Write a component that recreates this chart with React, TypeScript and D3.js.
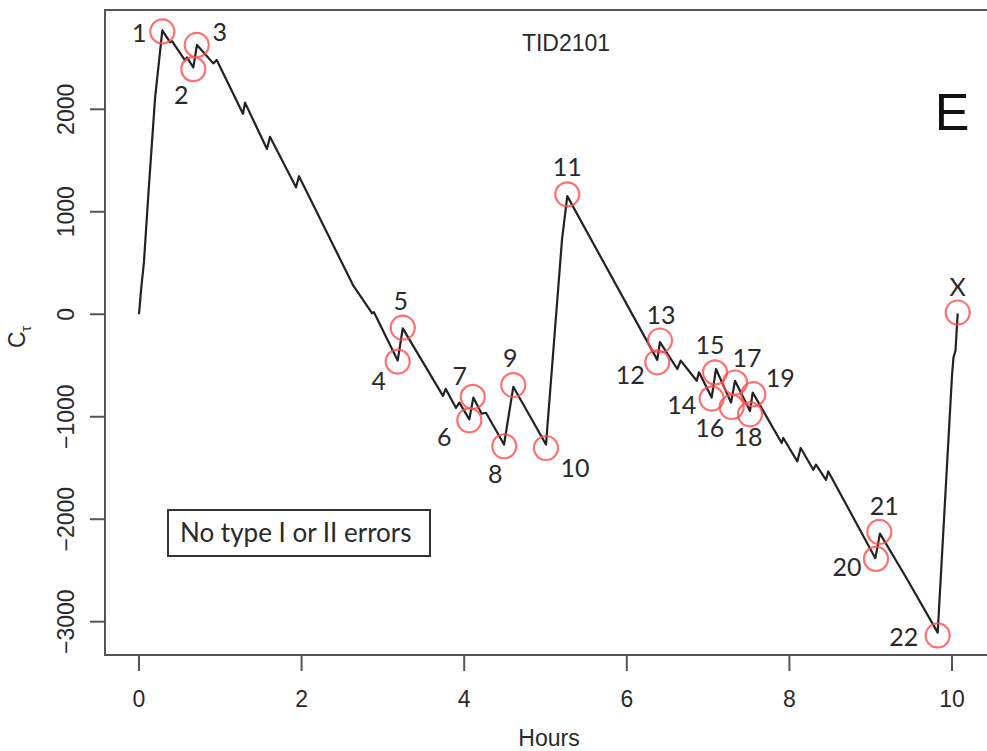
import React from "react";
import * as d3 from "d3";

// Cumulative sum trace (hours, C_tau)
const hours = [
  0, 0.025, 0.061, 0.111, 0.197, 0.287, 0.381, 0.406, 0.566, 0.59, 0.668, 0.713,
  0.914, 0.956, 1.279, 1.304, 1.574, 1.611, 1.931, 1.968, 2.632, 2.866, 2.89,
  3.182, 3.244, 3.739, 3.772, 3.899, 3.94, 4.063, 4.112, 4.215, 4.268, 4.49,
  4.604, 5.006, 5.08, 5.203, 5.268, 6.375, 6.408, 6.621, 6.663, 6.86, 6.888,
  7.044, 7.097, 7.282, 7.331, 7.515, 7.549, 7.905, 7.925, 8.097, 8.139, 8.294,
  8.327, 8.45, 8.478, 9.057, 9.114, 9.434, 9.824, 10.0, 10.018, 10.043, 10.07,
];
const ct = [
  0, 236, 511, 1121, 2104, 2770, 2655, 2665, 2478, 2507, 2409, 2628,
  2448, 2481, 1956, 2065, 1613, 1731, 1239, 1347, 285, 10, 20,
  -452, -138, -796, -728, -914, -862, -1026, -813, -971, -961, -1271,
  -708, -1271, -521, 728, 1153, -445, -272, -534, -452, -649, -567,
  -813, -534, -862, -649, -944, -764, -1256, -1207, -1436, -1305, -1517,
  -1468, -1616, -1534, -2380, -2141, -2566, -3107, -600, -423, -354, 7,
];

// Circled change points
const markerLabels = [
  "1", "2", "3", "4", "5", "6", "7", "8", "9", "10", "11", "12",
  "13", "14", "15", "16", "17", "18", "19", "20", "21", "22", "X",
];
const markerHours = [
  0.287, 0.668, 0.71, 3.182, 3.244, 4.063, 4.105, 4.493, 4.604, 5.006, 5.268, 6.375,
  6.408, 7.044, 7.085, 7.29, 7.331, 7.515, 7.556, 9.065, 9.106, 9.824, 10.07,
];
const markerCt = [
  2760, 2392, 2628, -462, -131, -1035, -806, -1288, -691, -1305, 1170, -469,
  -256, -823, -567, -905, -666, -976, -780, -2387, -2124, -3134, 17,
];

const xTicks = [0, 2, 4, 6, 8, 10];
const yTicks = [-3000, -2000, -1000, 0, 1000, 2000];

const titleText = "TID2101";
const panelText = "E";
const legendText = "No type I or II errors";
const xLabel = "Hours";

// label placement (pixel offsets from circle centre)
const LABEL_DX = [-23, -12, 23, -19, -2, -25, -13, -9, -3, 29, 0, -27, 1, -30, -5, -22, 12, -2, 27, -29, 5, -34, 0];
const LABEL_DY = [2, 26, -13, 19, -27, 17, -21, 28, -27, 20, -27, 13, -25, 6, -27, 21, -25, 23, -16, 8, -26, 2, -26];

const ARIAL = "'Liberation Sans', Arial, sans-serif";
const CALIBRI = "Lato, 'Open Sans', sans-serif";

export default function App() {
  const x = d3.scaleLinear().domain([0, 10]).range([139, 952]);
  const y = d3.scaleLinear().domain([-3000, 2000]).range([621.7, 109.3]);

  const line = d3
    .line<number>()
    .x((_, i) => x(hours[i]))
    .y((_, i) => y(ct[i]));
  const path = line(hours) || "";

  const left = 105;
  const top = 10;
  const bottom = 655;
  const axisColor = "#555";
  const textColor = "#2a2a2a";
  const labelFs = 25;

  return (
    <svg
      width={987}
      height={751}
      style={{ position: "absolute", left: 0, top: 0, background: "#fff" }}
    >
      <rect x={0} y={0} width={987} height={751} fill="#fff" />
      {/* plot frame */}
      <rect
        x={left}
        y={top}
        width={900}
        height={bottom - top}
        fill="none"
        stroke={axisColor}
        strokeWidth={2}
      />
      {/* x axis */}
      {xTicks.map((t) => (
        <g key={"x" + t}>
          <line x1={x(t)} x2={x(t)} y1={bottom} y2={bottom + 16} stroke={axisColor} strokeWidth={2} />
          <text
            x={x(t)}
            y={707}
            textAnchor="middle"
            fontFamily={ARIAL}
            fontSize={23}
            fill={textColor}
          >
            {t}
          </text>
        </g>
      ))}
      <text x={549} y={746} textAnchor="middle" fontFamily={ARIAL} fontSize={23} fill={textColor}>
        {xLabel}
      </text>
      {/* y axis */}
      {yTicks.map((t) => (
        <g key={"y" + t}>
          <line x1={left - 15} x2={left} y1={y(t)} y2={y(t)} stroke={axisColor} strokeWidth={2} />
          <text
            transform={`translate(74,${y(t)}) rotate(-90)`}
            textAnchor="middle"
            fontFamily={ARIAL}
            fontSize={23}
            fill={textColor}
          >
            {t < 0 ? "\u2212" + Math.abs(t) : String(t)}
          </text>
        </g>
      ))}
      <text
        transform="translate(25,348) rotate(-90)"
        textAnchor="start"
        fontFamily={ARIAL}
        fontSize={23}
        fill={textColor}
      >
        C
        <tspan fontSize={14} dy={6}>
          τ
        </tspan>
      </text>

      {/* title and panel letter */}
      <text x={566} y={51} textAnchor="middle" fontFamily={ARIAL} fontSize={23} fill={textColor}>
        {titleText}
      </text>
      <text x={952} y={130} textAnchor="middle" fontFamily={ARIAL} fontSize={52} fill="#111">
        {panelText}
      </text>

      {/* legend box */}
      <rect x={168} y={510} width={262} height={46} fill="#fff" stroke="#333" strokeWidth={2} />
      <text x={180} y={542} fontFamily={CALIBRI} fontSize={26} fill={textColor}>
        {legendText}
      </text>

      {/* data line */}
      <path d={path} fill="none" stroke="#222" strokeWidth={2.2} strokeLinejoin="round" />

      {/* circled points */}
      {markerLabels.map((lab, i) => {
        const cx = x(markerHours[i]);
        const cy = y(markerCt[i]);
        return (
          <g key={"m" + lab}>
            <circle cx={cx} cy={cy} r={12} fill="none" stroke="#ff4d4d" strokeOpacity={0.8} strokeWidth={2.2} />
            <text
              x={cx + LABEL_DX[i]}
              y={cy + LABEL_DY[i] + labelFs * 0.36}
              textAnchor="middle"
              fontFamily={CALIBRI}
              fontSize={labelFs}
              fill={textColor}
            >
              {lab}
            </text>
          </g>
        );
      })}
    </svg>
  );
}
